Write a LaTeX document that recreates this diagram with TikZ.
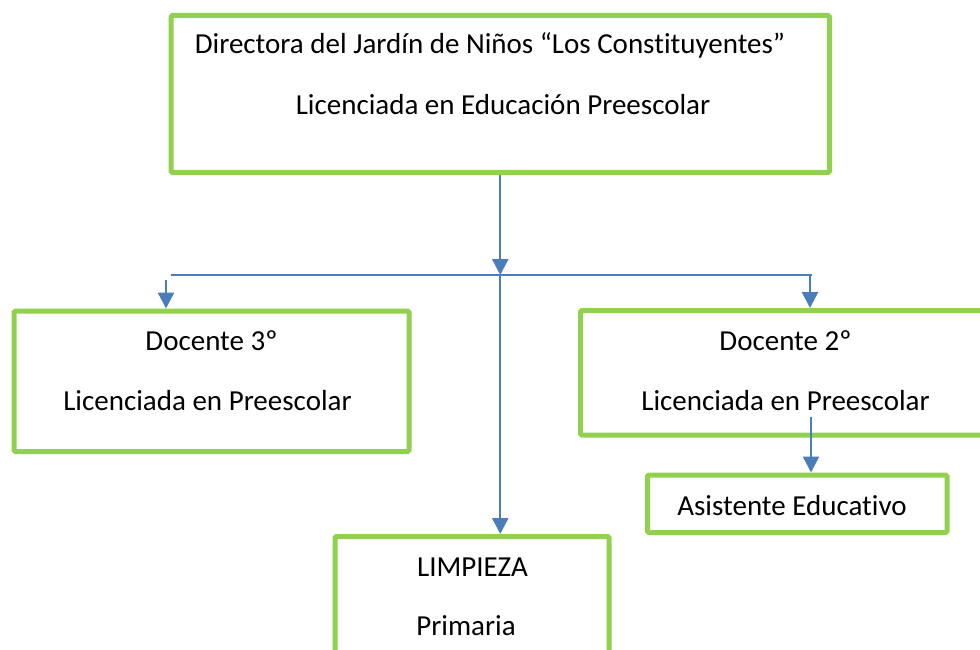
\documentclass[tikz,border=0pt]{standalone}
\usepackage{fontspec}
\setmainfont{Carlito}[Ligatures=NoCommon]
\usetikzlibrary{arrows.meta}
\definecolor{boxgreen}{HTML}{92D050}
\definecolor{arrblue}{HTML}{4A7EBB}
\begin{document}
\begin{tikzpicture}[x=1pt,y=-1pt,
  orgbox/.style={draw=boxgreen,line width=5pt,rounded corners=1.5pt,rectangle,inner sep=0pt},
  lbl/.style={inner sep=0pt,anchor=base,font=\fontsize{29}{35}\selectfont,text=black},
  arr/.style={draw=arrblue,line width=2.4pt,-{Triangle[width=16pt,length=16pt]}},
  hline/.style={draw=arrblue,line width=1.6pt}]
\useasboundingbox (0,0) rectangle (980,650);
\clip (0,0) rectangle (980,650);
% boxes
\node[orgbox,minimum width=658.5pt,minimum height=157pt] (top) at (500.25,94) {};
\node[orgbox,minimum width=395pt,minimum height=140.5pt] (left) at (211.5,381.25) {};
\node[orgbox,minimum width=439pt,minimum height=124.5pt] (right) at (800,372.75) {};
\node[orgbox,minimum width=299.5pt,minimum height=57.5pt] (asis) at (797.25,503.75) {};
\node[orgbox,minimum width=274pt,minimum height=143.5pt] (limp) at (472,608.25) {};
% texts
\node[lbl] (t1) at (490,54) {Directora del Jardín de Niños “Los Constituyentes”};
\node[lbl] (t2) at (503,115) {Licenciada en Educación Preescolar};
\node[lbl] (l1) at (211.5,350) {Docente 3º};
\node[lbl] (l2) at (207.5,410.5) {Licenciada en Preescolar};
\node[lbl] (r1) at (785.5,350) {Docente 2º};
\node[lbl] (r2) at (785.5,410) {Licenciada en Preescolar};
\node[lbl] (a1) at (792,515) {Asistente Educativo};
\node[lbl] (p1) at (472.5,576) {LIMPIEZA};
\node[lbl] (p2) at (466,635) {Primaria};
% connector points
\coordinate (hub) at (500.25,275);
\coordinate (hl) at (170.5,275);
\coordinate (hr) at (812,275);
\coordinate (ls) at (166,280);
\coordinate (rd) at (810,275);
\coordinate (d2s) at (811,417);
% connectors
\draw[hline] (hl) -- (hr);
\draw[arr] (top.south) -- (hub);
\draw[arr] (ls) -- (left.north -| ls);
\draw[arr] (rd) -- (right.north -| rd);
\draw[arr] (hub) -- (limp.north -| hub);
\draw[arr] (d2s) -- (asis.north -| d2s);
\end{tikzpicture}
\end{document}
